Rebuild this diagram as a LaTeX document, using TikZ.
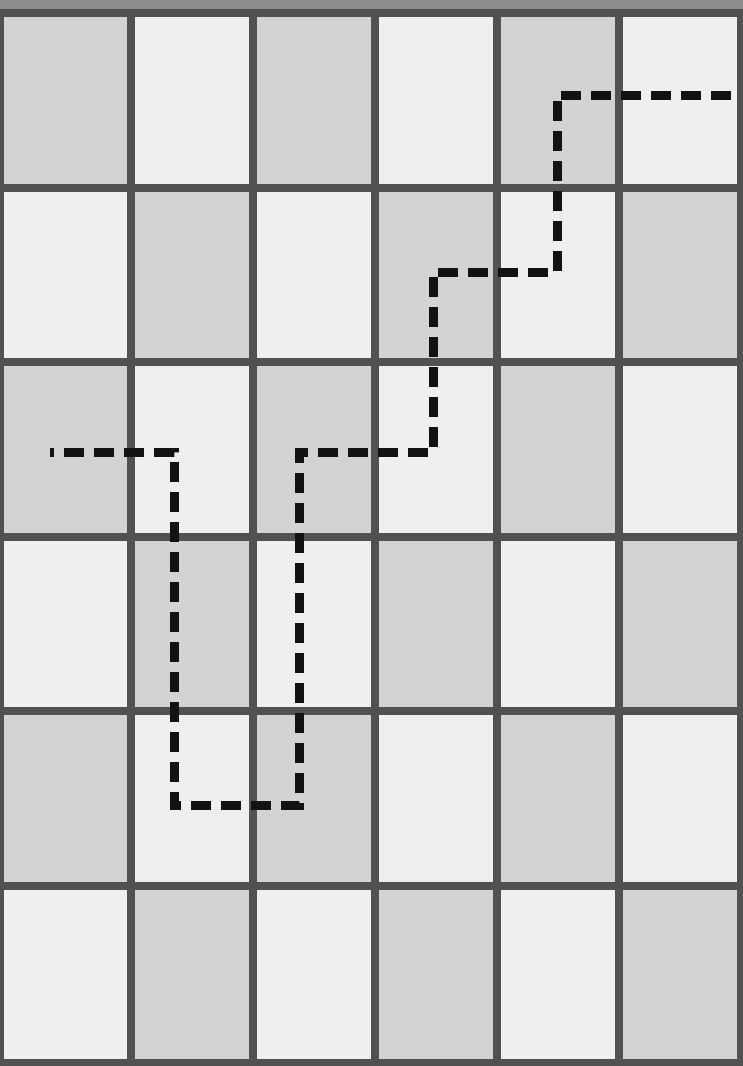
\documentclass[tikz,border=0pt]{standalone}
\usepackage{tikz}

\definecolor{celldark}{HTML}{D3D3D3}
\definecolor{celllight}{HTML}{EFEFEF}
\definecolor{gridgray}{HTML}{515151}
\definecolor{topstrip}{HTML}{8C8C8C}

\begin{document}
\begin{tikzpicture}[x=1pt, y=-1pt,
    gridline/.style={draw=gridgray, line width=8pt},
    route/.style={draw=black!93, line width=9pt, dash pattern=on 20pt off 10pt, dash phase=16pt}]
  \useasboundingbox (0,0) rectangle (743,1066);
  \fill[celllight] (0,0) rectangle (743,1066);
  \fill[topstrip] (0,0) rectangle (743,10);
  % checkerboard cells
  \foreach \i in {0,...,5}
    \foreach \j in {0,...,5} {
      \pgfmathparse{int(mod(\i+\j,2))}
      \ifnum\pgfmathresult=0
        \fill[celldark] ({9+122*\i},{13+174.5*\j}) rectangle ({9+122*(\i+1)},{13+174.5*(\j+1)});
      \fi
    }
  \fill[celldark] (0,13) rectangle (9,187.5);
  \fill[celldark] (0,362) rectangle (9,536.5);
  \fill[celldark] (0,711) rectangle (9,885.5);
  % grid
  \foreach \i in {1,...,6}
    \draw[gridline] ({9+122*\i},9) -- ({9+122*\i},1066);
  \draw[gridline] (0,9) -- (0,1066);
  \foreach \j in {0,...,5}
    \draw[gridline] (0,{13+174.5*\j}) -- (743,{13+174.5*\j});
  \draw[gridline] (0,1063) -- (743,1063);
  % dashed route
  \coordinate (p1) at (50,452);
  \coordinate (p2) at (174,452);
  \coordinate (p3) at (174,805);
  \coordinate (p4) at (299,805);
  \coordinate (p5) at (299,452);
  \coordinate (p6) at (433,452);
  \coordinate (p7) at (433,272);
  \coordinate (p8) at (557,272);
  \coordinate (p9) at (557,95);
  \coordinate (p10) at (738,95);
  \draw[route] (p1) -- (p2) -- (p3) -- (p4) -- (p5) -- (p6) -- (p7) -- (p8) -- (p9) -- (p10);
\end{tikzpicture}
\end{document}
